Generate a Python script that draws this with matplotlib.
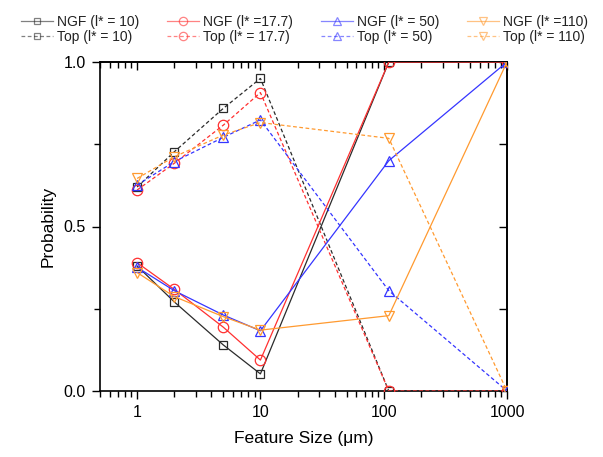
import matplotlib
matplotlib.use("Agg")
import matplotlib.pyplot as plt
from matplotlib.ticker import FixedLocator, NullFormatter, LogLocator, FixedFormatter

plt.rcParams['font.family'] = ['Liberation Sans', 'DejaVu Sans']

feature_size = [1, 2, 5, 10, 110, 1000]

ngf_10 = [0.38, 0.271, 0.14, 0.052, 1.0, 1.0]
top_10 = [0.62, 0.727, 0.859, 0.950, 0.0, 0.0]
ngf_17 = [0.39, 0.309, 0.194, 0.094, 1.0, 1.0]
top_17 = [0.611, 0.692, 0.808, 0.907, 0.0, 0.0]
ngf_50 = [0.376, 0.305, 0.231, 0.183, 0.70, 1.0]
top_50 = [0.626, 0.697, 0.771, 0.824, 0.305, 0.0]
ngf_110 = [0.36, 0.287, 0.226, 0.185, 0.229, 1.0]
top_110 = [0.646, 0.712, 0.778, 0.816, 0.768, 0.0]

labels_ngf = ["NGF (l* = 10)", "NGF (l* =17.7)", "NGF (l* = 50)", "NGF (l* =110)"]
labels_top = ["Top (l* = 10)", "Top (l* = 17.7)", "Top (l* = 50)", "Top (l* = 110)"]
colors = ["#2b2b2b", "#ff3030", "#3535ff", "#ff9a30"]
markers = ["s", "o", "^", "v"]
msizes = [6, 7.5, 7.5, 7.5]

ngf_all = [ngf_10, ngf_17, ngf_50, ngf_110]
top_all = [top_10, top_17, top_50, top_110]

fig = plt.figure(figsize=(6.03, 4.57), dpi=100)
ax = fig.add_axes([100/603, 1-391/457, 407/603, 329/457])

handles = []
for i in range(4):
    h1, = ax.plot(feature_size, ngf_all[i], color=colors[i], lw=0.9, ls='-',
                  marker=markers[i], ms=msizes[i], mfc='none', mec=colors[i], mew=0.9,
                  label=labels_ngf[i], zorder=3)
    h2, = ax.plot(feature_size, top_all[i], color=colors[i], lw=0.9, ls=(0, (3, 2)),
                  marker=markers[i], ms=msizes[i], mfc='none', mec=colors[i], mew=0.9,
                  label=labels_top[i], zorder=3)
    handles += [h1, h2]

ax.set_xscale('log')
ax.set_xlim(0.5, 1000)
ax.set_ylim(0, 1)
ax.xaxis.set_major_locator(FixedLocator([1, 10, 100, 1000]))
ax.xaxis.set_major_formatter(FixedFormatter(["1", "10", "100", "1000"]))
ax.xaxis.set_minor_locator(LogLocator(base=10, subs=range(2, 10)))
ax.xaxis.set_minor_formatter(NullFormatter())
ax.yaxis.set_major_locator(FixedLocator([0, 0.5, 1.0]))
ax.yaxis.set_major_formatter(FixedFormatter(["0.0", "0.5", "1.0"]))
ax.yaxis.set_minor_locator(FixedLocator([0.25, 0.75]))

for s in ax.spines.values():
    s.set_linewidth(1.2)

ax.tick_params(which='both', direction='out', top=False, right=False, width=1.0)
ax.tick_params(which='major', length=6, labelsize=11.5, pad=4)
ax.tick_params(which='minor', length=4)

# top / right ticks pointing inward
axt = ax.secondary_xaxis('top')
axt.xaxis.set_major_locator(FixedLocator([1, 10, 100, 1000]))
axt.xaxis.set_minor_locator(LogLocator(base=10, subs=range(2, 10)))
axt.xaxis.set_major_formatter(NullFormatter())
axt.xaxis.set_minor_formatter(NullFormatter())
axt.tick_params(which='both', direction='in', width=1.0)
axt.tick_params(which='major', length=6)
axt.tick_params(which='minor', length=4)
axt.spines['top'].set_linewidth(1.2)

axr = ax.secondary_yaxis('right')
axr.yaxis.set_major_locator(FixedLocator([0, 0.5, 1.0]))
axr.yaxis.set_minor_locator(FixedLocator([0.25, 0.75]))
axr.yaxis.set_major_formatter(NullFormatter())
axr.tick_params(which='both', direction='in', width=1.0, length=6)
axr.spines['right'].set_linewidth(1.2)

ax.set_xlabel("Feature Size (\u03bcm)", fontsize=12.5, labelpad=8)
ax.set_ylabel("Probability", fontsize=12.5, labelpad=6)

leg = fig.legend(handles=handles, loc='center', bbox_to_anchor=(0.505, 1 - 29.5/457),
                 ncol=4, frameon=False, fontsize=10, handlelength=2.3,
                 handletextpad=0.3, columnspacing=2.0, labelspacing=0.1,
                 markerscale=0.8, borderpad=0.0)
for t in leg.get_texts():
    t.set_color('#222222')
for lh in leg.legend_handles:
    lh.set_alpha(0.6)

fig.savefig("out.png", dpi=100)
